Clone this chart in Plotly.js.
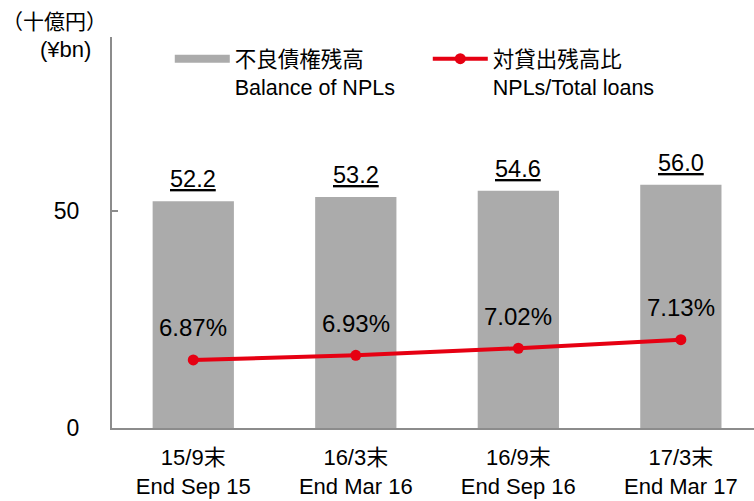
<!DOCTYPE html>
<html><head><meta charset="utf-8">
<script src="https://cdn.plot.ly/plotly-3.0.1.min.js"></script>
<style>body{margin:0;padding:0;background:#fff}#chart{width:754px;height:501px}</style>
</head><body><div id="chart"></div>
<script>
const categories = ['15/9末<br>End Sep 15', '16/3末<br>End Mar 16', '16/9末<br>End Sep 16', '17/3末<br>End Mar 17'];
const nplBalance = [52.2, 53.2, 54.6, 56.0];
const nplRatio = [6.87, 6.93, 7.02, 7.13];
const nameBar = '不良債権残高<br>Balance of NPLs';
const nameLine = '対貸出残高比<br>NPLs/Total loans';
const yTicks = [0, 50];

const FONT = 'Liberation Sans, Arial, Noto Sans CJK JP, sans-serif';
const GRAY = '#ababab';
const RED = '#e60012';

const traces = [
  {type:'bar', x:categories, y:nplBalance, marker:{color:GRAY}, width:0.5, showlegend:false, hoverinfo:'skip'},
  {type:'scatter', mode:'lines+markers', x:categories, y:nplRatio, yaxis:'y2',
   line:{color:RED, width:4}, marker:{color:RED, size:11}, showlegend:false, hoverinfo:'skip'},
  {type:'scatter', mode:'lines', x:[null], y:[null], name:nameBar, line:{color:GRAY, width:8}},
  {type:'scatter', mode:'lines+markers', x:[null], y:[null], yaxis:'y2', name:nameLine,
   line:{color:RED, width:4}, marker:{color:RED, size:11}}
];

const annotations = [];
categories.forEach((c,i)=>{
  annotations.push({x:c, y:nplBalance[i], xref:'x', yref:'y', text:nplBalance[i].toFixed(1),
    showarrow:false, yanchor:'bottom', yshift:7,
    font:{family:FONT, size:23.5, color:'#000', lineposition:'under'}});
  annotations.push({x:c, y:nplRatio[i], xref:'x', yref:'y2', text:nplRatio[i].toFixed(2)+'%',
    showarrow:false, yanchor:'middle', yshift:32,
    font:{family:FONT, size:24, color:'#000'}});
});
annotations.push({xref:'paper', yref:'paper', x:-0.005, y:1.0, xanchor:'right', yanchor:'bottom', yshift:2,
  text:'（十億円）', showarrow:false, font:{family:FONT, size:21, color:'#000'}});
annotations.push({xref:'paper', yref:'paper', x:-0.03, y:1.0, xanchor:'right', yanchor:'top', yshift:2,
  text:'(¥bn)', showarrow:false, font:{family:FONT, size:22, color:'#000'}});

const layout = {
  width:754, height:501,
  margin:{l:112, r:0, t:37, b:73},
  paper_bgcolor:'#fff', plot_bgcolor:'#fff',
  font:{family:FONT, size:21, color:'#000'},
  bargap:0.5,
  xaxis:{type:'category', range:[-0.5, 3.45], showgrid:false, zeroline:false,
    showline:true, linecolor:'#8c8c8c', linewidth:2, ticks:'', ticklabelstandoff:9,
    tickfont:{family:FONT, size:22, color:'#000'}},
  yaxis:{range:[0,90], tickvals:yTicks, showgrid:false, zeroline:false,
    showline:true, linecolor:'#8c8c8c', linewidth:2, ticks:'inside', ticklen:6, tickcolor:'#8c8c8c', tickwidth:2,
    ticklabelstandoff:26, tickfont:{family:FONT, size:23, color:'#000'}},
  yaxis2:{range:[6,11], overlaying:'y', side:'right', visible:false, showgrid:false, zeroline:false},
  showlegend:true,
  legend:{orientation:'h', x:0.09, y:0.997, xanchor:'left', yanchor:'top', valign:'top',
    bgcolor:'rgba(0,0,0,0)', itemwidth:55, entrywidth:188, entrywidthmode:'pixels',
    font:{family:FONT, size:21.5, color:'#000'}},
  annotations:annotations
};

Plotly.newPlot('chart', traces, layout, {displayModeBar:false, staticPlot:true});
</script></body></html>
